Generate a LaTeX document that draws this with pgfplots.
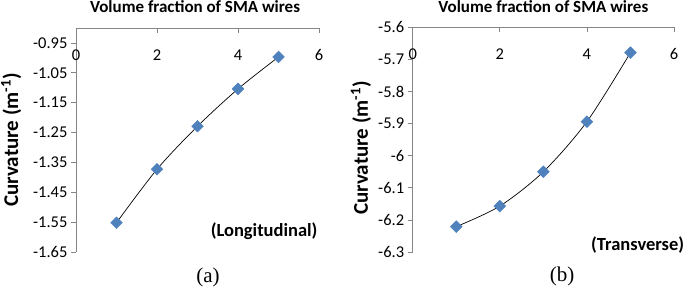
\documentclass[border=0pt]{standalone}
\usepackage{pgfplots}
\pgfplotsset{compat=1.18}
\usepackage{fontspec}
\setmainfont{Carlito}
\newfontfamily\capfont{Liberation Serif}
\definecolor{axgray}{HTML}{868686}
\definecolor{mblue}{HTML}{4F81BD}
\pgfplotsset{
  panel/.style={
    scale only axis,
    axis x line=top, axis y line=left,
    axis line style={axgray,-,line width=0.7pt},
    xmin=0, xmax=6, xtick={0,2,4,6},
    tick style={axgray,line width=0.7pt},
    xtick align=inside, ytick align=outside,
    major tick length=5pt,
    tick label style={font=\fontsize{16.5}{18}\selectfont},
    /pgf/number format/assume math mode=true,
    every x tick label/.append style={anchor=center, yshift=-27pt},
    title style={font=\bfseries\fontsize{17}{19}\selectfont, anchor=center},
    ylabel style={font=\bfseries\fontsize{21}{23}\selectfont, anchor=center},
    clip=false,
  },
  mk/.style={only marks, mark=square*, mark size=4.2pt, mark options={rotate=45, fill=mblue, draw=mblue}},
  tl/.style={black, line width=0.7pt, smooth, no marks},
}
\begin{document}
\begin{tikzpicture}
\path[use as bounding box] (0,0) rectangle (687pt,294pt);
% (a) Longitudinal
\begin{axis}[panel,
  at={(76pt,42pt)}, anchor=south west, width=243pt, height=224pt,
  ymin=-1.65, ymax=-0.9,
  ytick={-1.65,-1.55,-1.45,-1.35,-1.25,-1.15,-1.05,-0.95},
  yticklabels={-1.65,-1.55,-1.45,-1.35,-1.25,-1.15,-1.05,-0.95},
  title={Volume fraction of SMA wires},
  title style={at={(axis description cs:0.49,1)}, yshift=15pt},
  ylabel={Curvature (m\textsuperscript{-1})},
  ylabel style={at={(axis description cs:-0.267,0.5)}},
]
\addplot[mk] coordinates {(1,-1.552) (2,-1.373) (3,-1.229) (4,-1.104) (5,-0.997)};
\addplot[tl] coordinates {(1,-1.552) (2,-1.373) (3,-1.229) (4,-1.104) (5,-0.997)};
\node[font=\bfseries\fontsize{18.5}{20}\selectfont] at (axis description cs:0.774,0.094) {(Longitudinal)};
\node[font=\capfont\fontsize{21}{23}\selectfont] at (axis description cs:0.543,-0.112) {(a)};
\end{axis}
% (b) Transverse
\begin{axis}[panel,
  at={(412.7pt,42pt)}, anchor=south west, width=261.3pt, height=224.7pt,
  ymin=-6.3, ymax=-5.6,
  ytick={-6.3,-6.2,-6.1,-6,-5.9,-5.8,-5.7,-5.6},
  yticklabels={-6.3,-6.2,-6.1,-6,-5.9,-5.8,-5.7,-5.6},
  title={Volume fraction of SMA wires},
  title style={at={(axis description cs:0.5,1)}, yshift=15pt},
  ylabel={Curvature (m\textsuperscript{-1})},
  ylabel style={at={(axis description cs:-0.198,0.463)}},
]
\addplot[mk] coordinates {(1,-6.221) (2,-6.157) (3,-6.05) (4,-5.894) (5,-5.679)};
\addplot[tl] coordinates {(1,-6.221) (2,-6.157) (3,-6.05) (4,-5.894) (5,-5.679)};
\node[font=\bfseries\fontsize{18.5}{20}\selectfont] at (axis description cs:0.861,0.031) {(Transverse)};
\node[font=\capfont\fontsize{21}{23}\selectfont] at (axis description cs:0.572,-0.111) {(b)};
\end{axis}
\end{tikzpicture}
\end{document}
